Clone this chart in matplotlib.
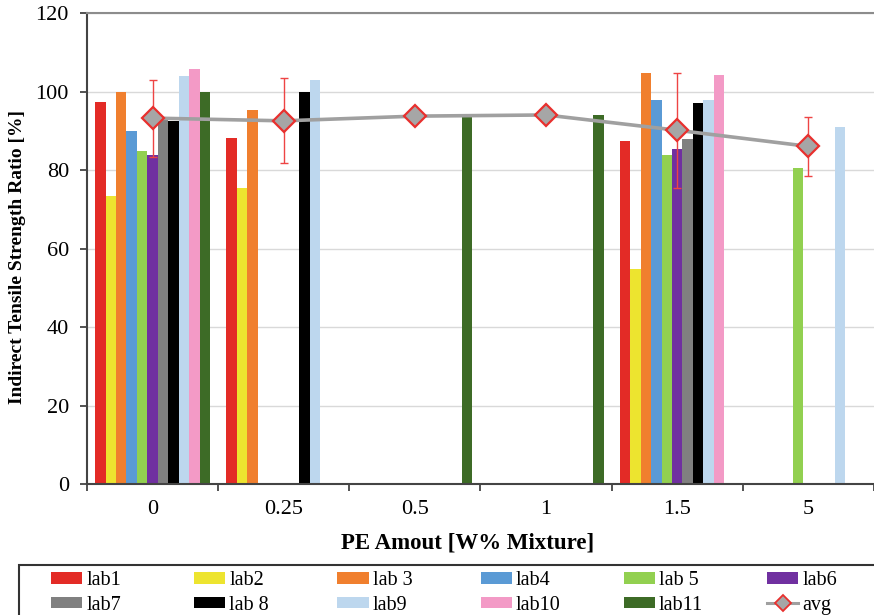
import numpy as np
import matplotlib
matplotlib.use("Agg")
import matplotlib.pyplot as plt
from matplotlib.lines import Line2D
from matplotlib.patches import Rectangle

nan = np.nan

# categories on the x axis
pe_amounts = ["0", "0.25", "0.5", "1", "1.5", "5"]

# one list per lab, nan where the lab has no result
lab_names = ["lab1", "lab2", "lab 3", "lab4", "lab 5", "lab6",
             "lab7", "lab 8", "lab9", "lab10", "lab11"]
lab1 = [97.4, 88.2, nan, nan, 87.5, nan]
lab2 = [73.4, 75.5, nan, nan, 54.8, nan]
lab3 = [100.0, 95.4, nan, nan, 104.7, nan]
lab4 = [90.0, nan, nan, nan, 98.0, nan]
lab5 = [85.0, nan, nan, nan, 84.0, 80.7]
lab6 = [83.8, nan, nan, nan, 85.3, nan]
lab7 = [92.9, nan, nan, nan, 87.9, nan]
lab8 = [92.6, 100.0, nan, nan, 97.1, nan]
lab9 = [103.9, 103.0, nan, nan, 98.0, 91.1]
lab10 = [105.9, nan, nan, nan, 104.3, nan]
lab11 = [100.0, nan, 93.5, 94.1, nan, nan]

avg = [93.3, 92.6, 93.8, 94.1, 90.2, 86.1]
avg_err = [9.8, 10.8, nan, nan, 14.7, 7.5]

lab_values = [lab1, lab2, lab3, lab4, lab5, lab6, lab7, lab8, lab9, lab10, lab11]
lab_colors = ["#E32B26", "#EDE42F", "#F07F2E", "#5A9AD5", "#92D050", "#7030A0",
              "#808080", "#000000", "#BDD7EE", "#F39AC6", "#3D6B26"]

plt.rcParams["font.family"] = ["Liberation Serif", "DejaVu Serif"]

W, H = 874, 615
fig = plt.figure(figsize=(W / 100, H / 100), dpi=100)
ax = fig.add_axes([87 / W, 1 - 484.3 / H, 787 / W, 471 / H])

x = np.arange(len(pe_amounts))
nlabs = len(lab_values)
bw = 0.876 / nlabs  # excel-ish gap between groups

handles = []
for i, (vals, col) in enumerate(zip(lab_values, lab_colors)):
    offs = (i - (nlabs - 1) / 2) * bw
    b = ax.bar(x + offs, np.array(vals, dtype=float), width=bw, color=col,
               zorder=2, label=lab_names[i])
    handles.append(b)

# average line with error bars (error bar drawn under the markers)
err = np.array(avg_err, dtype=float)
has_err = ~np.isnan(err)
ax.errorbar(x[has_err], np.array(avg)[has_err], yerr=err[has_err], fmt="none",
            ecolor="#EE4444", elinewidth=1.0, capsize=2.6, capthick=1.0, zorder=3)
ax.plot(x, avg, color="#A0A0A0", lw=2.6, zorder=4)
ax.plot(x, avg, ls="none", marker="D", ms=11.5, mfc="#A6A6A6", mec="#E8302E",
        mew=1.6, zorder=5)
avg_handle = Line2D([], [], color="#A0A0A0", lw=2.2, marker="D", ms=8,
                    mfc="#A6A6A6", mec="#E8302E", mew=1.3)

ax.set_xlim(-0.5, 5.48)
ax.set_ylim(0, 120)
ax.set_yticks(np.arange(0, 121, 20))
ax.yaxis.grid(True, color="#D9D9D9", lw=1.0, zorder=0)
ax.set_axisbelow(True)

ax.set_xticks(x)
ax.set_xticklabels(pe_amounts)
ax.set_xticks(np.arange(-0.5, 5.6, 1.0), minor=True)
ax.tick_params(axis="x", which="major", length=0, labelsize=16, pad=11)
ax.tick_params(axis="x", which="minor", length=5, width=1.3, color="#444444",
               direction="out")
ax.tick_params(axis="y", length=5, width=1.3, color="#444444", labelsize=16, pad=8)

for s in ["left", "bottom"]:
    ax.spines[s].set_color("#444444")
    ax.spines[s].set_linewidth(1.5)
ax.spines["right"].set_visible(False)
ax.spines["top"].set_color("#8C8C8C")
ax.spines["top"].set_linewidth(1.5)

ax.set_xlabel("PE Amout [W% Mixture]", fontsize=16.5, fontweight="bold", va="center")
ax.xaxis.set_label_coords(0.484, (484.3 - 543) / 471)
ax.set_ylabel("Indirect Tensile Strength Ratio [%]", fontsize=14,
              fontweight="bold", va="center")
ax.yaxis.set_label_coords((18 - 87) / 787, (484.3 - 257.5) / 471)

# legend: excel lays it out row by row with an even pitch, so one small legend per column
all_h = handles + [avg_handle]
all_l = lab_names + ["avg"]
for c in range(6):
    lg = fig.legend([all_h[c], all_h[c + 6]], [all_l[c], all_l[c + 6]],
                    loc="upper left", bbox_to_anchor=((51 + 143.2 * c) / W, 1 - 571 / H),
                    fontsize=14.5, handlelength=1.55, handleheight=0.5,
                    handletextpad=0.2, labelspacing=0.28, borderpad=0,
                    borderaxespad=0, frameon=False)

# legend frame, runs off the right and bottom edge like the reference
fig.add_artist(Rectangle((19 / W, -0.05), 1.0, (H - 565) / H + 0.05,
                         transform=fig.transFigure, fill=False,
                         ec="#333333", lw=1.5, clip_on=False))

fig.savefig("out.png", dpi=100)
